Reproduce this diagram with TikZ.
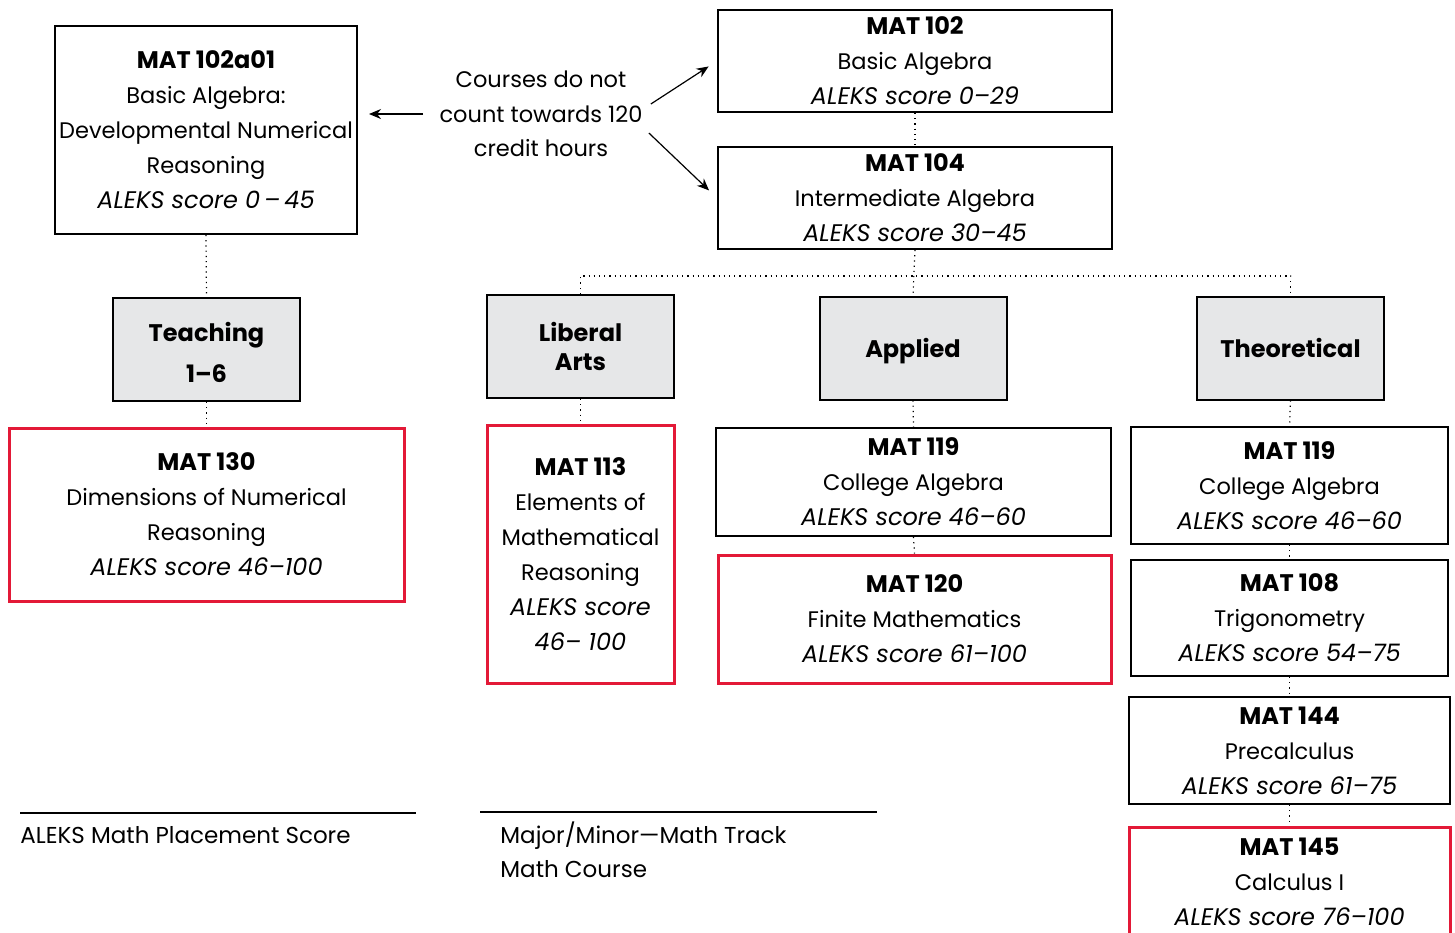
\documentclass[tikz,border=0pt]{standalone}
\usepackage{fontspec}
\setmainfont{Poppins}
\usetikzlibrary{arrows.meta}
\definecolor{mred}{RGB}{227,25,55}
\definecolor{tgray}{RGB}{230,231,232}
\newcommand{\ttl}[1]{{\fontsize{12}{17.5}\selectfont\bfseries #1}}
\newcommand{\score}[1]{{\fontsize{12}{17.5}\selectfont\itshape #1}}

\begin{document}
\begin{tikzpicture}[x=0.5pt, y=-0.5pt,
	course/.style={draw, line width=1pt, align=center, inner sep=0pt, font=\fontsize{11.25}{17.5}\selectfont},
	redcourse/.style={course, draw=mred, line width=1.5pt},
	track/.style={draw, fill=tgray, line width=1pt, align=center, inner sep=0pt, text depth=0pt, font=\fontsize{12}{14.5}\selectfont\bfseries, minimum width=93.5pt, minimum height=51.5pt},
	link/.style={dotted, line width=0.6pt},
	arr/.style={-{Stealth[length=6pt, width=5pt]}, line width=0.6pt}]
	 \useasboundingbox (0, 0) rectangle (1455, 932);
	 
	 \node[course, minimum width=151pt, minimum height=104pt] (dev) at (206, 130) {\ttl{MAT 102a01}\\Basic Algebra:\\Developmental Numerical\\Reasoning\\\score{ALEKS score 0\,–\,45}};
	 \node[course, minimum width=197pt, minimum height=51pt] (b102) at (915, 61) {\ttl{MAT 102}\\Basic Algebra\\\score{ALEKS score 0–29}};
	 \node[course, minimum width=197pt, minimum height=51pt] (b104) at (915, 198) {\ttl{MAT 104}\\Intermediate Algebra\\\score{ALEKS score 30–45}};
	 \node[align=center, inner sep=0pt, font=\fontsize{11.25}{17.25}\selectfont] (note) at (541, 114) {Courses do not\\count towards 120\\credit hours};
	 
	 \node[track] (teach) at (206.5, 349.5) {\\[-2pt]Teaching\\[6pt]1–6};
	 \node[track] (lib) at (580.5, 346.5) {Liberal\\Arts};
	 \node[track] (app) at (913, 348) {Applied};
	 \node[track] (theo) at (1290.5, 348) {Theoretical};
	 
	 \node[redcourse, minimum width=197.5pt, minimum height=86.5pt] (m130) at (206.5, 514.5) {\ttl{MAT 130}\\Dimensions of Numerical\\Reasoning\\\score{ALEKS score 46–100}};
	 \node[redcourse, minimum width=93.5pt, minimum height=129pt] (m113) at (580.5, 554) {\ttl{MAT 113}\\Elements of\\Mathematical\\Reasoning\\\score{ALEKS score}\\\score{46– 100}};
	 \node[course, minimum width=197.5pt, minimum height=54pt] (a119) at (913.5, 482) {\ttl{MAT 119}\\College Algebra\\\score{ALEKS score 46–60}};
	 \node[redcourse, minimum width=196.5pt, minimum height=64pt] (m120) at (914.5, 619) {\ttl{MAT 120}\\Finite Mathematics\\\score{ALEKS score 61–100}};
	 \node[course, minimum width=158.5pt, minimum height=58.5pt] (t119) at (1289.5, 485.5) {\ttl{MAT 119}\\College Algebra\\\score{ALEKS score 46–60}};
	 \node[course, minimum width=158.5pt, minimum height=58pt] (m108) at (1289.5, 618) {\ttl{MAT 108}\\Trigonometry\\\score{ALEKS score 54–75}};
	 \node[course, minimum width=160.5pt, minimum height=53.5pt] (m144) at (1289.5, 750.5) {\ttl{MAT 144}\\Precalculus\\\score{ALEKS score 61–75}};
	 \node[redcourse, minimum width=160.5pt, minimum height=55pt] (m145) at (1289.5, 882) {\ttl{MAT 145}\\Calculus I\\\score{ALEKS score 76–100}};
	 
	 \draw[arr, shorten >=5.5pt] ([xshift=-8]note.west) -- (dev.east |- note.west);
	 \draw[arr, shorten >=5pt] ([shift={(8, -10)}]note.east) -- (b102.west);
	 \draw[arr, shorten >=5.5pt] ([shift={(6, 19)}]note.east) -- (b104.west);
	 
	 \coordinate (fork) at (912, 276);
	 \draw[link] (dev.south) -- (teach.north);
	 \draw[link] (teach.south) -- (m130.north);
	 \draw[link] (b102.south) -- (b104.north);
	 \draw[link] (b104.south) -- (app.north);
	 \draw[link] (lib.north) |- (fork) -| (theo.north);
	 \draw[link] (lib.south) -- (m113.north);
	 \draw[link] (app.south) -- (a119.north);
	 \draw[link] (a119.south) -- (m120.north);
	 \foreach \a/\b in {theo/t119, t119/m108, m108/m144, m144/m145}
	 \draw[link] (\a.south) -- (\b.north);
	 
	 \draw[line width=0.75pt] (20, 813) -- (416, 813);
	 \draw[line width=0.75pt] (480, 812) -- (877, 812);
	 \node[anchor=west, inner sep=0pt, font=\fontsize{11.5}{17.5}\selectfont] (key1) at (20, 835) {ALEKS Math Placement Score};
	 \node[anchor=west, align=left, inner sep=0pt, font=\fontsize{11.5}{17.25}\selectfont] (key2) at (500, 850) {Major/Minor—Math Track\\Math Course};
\end{tikzpicture}
\end{document}
